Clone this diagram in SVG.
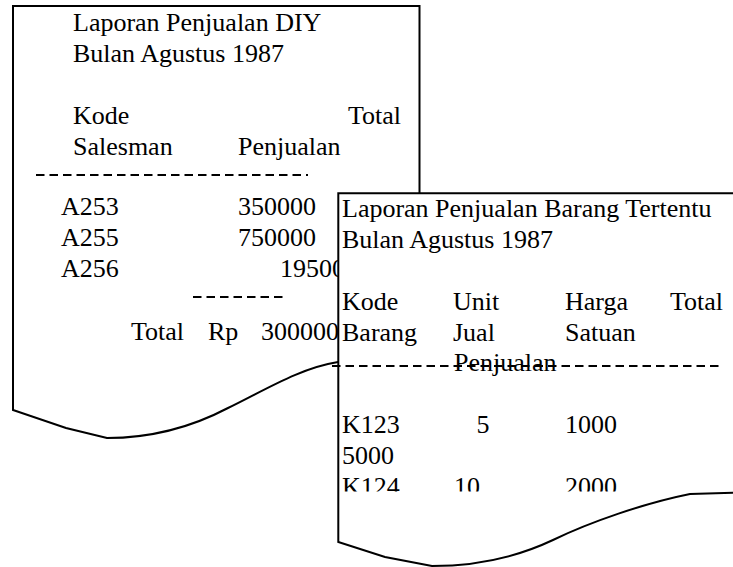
<svg xmlns="http://www.w3.org/2000/svg" width="733" height="567" viewBox="0 0 733 567">
<style>
  .doc { fill: #fff; stroke: #000; stroke-width: 2; stroke-linejoin: miter; }
  .t { font-family: "Liberation Serif", "Times New Roman", serif; font-size: 26px; fill: #000; }
  .dash { stroke: #000; stroke-width: 2; stroke-dasharray: 8.5 5; fill: none; }
</style>
<defs>
  <clipPath id="clip2">
    <rect x="330" y="190" width="410" height="301.5"/>
  </clipPath>
</defs>
<rect width="733" height="567" fill="#fff"/>
<g id="laporan-diy">
  <path class="doc" d="M13 6 H419.5 V362 L338 362 C300 368 265 390 228 408 C190 428 150 438 107 438 L66 428 L13 410 Z"/>
  <text class="t" x="73" y="31">Laporan Penjualan DIY</text>
  <text class="t" x="73" y="62">Bulan Agustus 1987</text>
  <text class="t" x="73" y="124">Kode</text>
  <text class="t" x="348" y="124">Total</text>
  <text class="t" x="73" y="155">Salesman</text>
  <text class="t" x="238" y="155">Penjualan</text>
  <line class="dash" x1="36" y1="175" x2="308" y2="175"/>
  <text class="t" x="61" y="215">A253</text>
  <text class="t" x="238" y="215">350000</text>
  <text class="t" x="61" y="246">A255</text>
  <text class="t" x="238" y="246">750000</text>
  <text class="t" x="61" y="277">A256</text>
  <text class="t" x="280" y="277">19500</text>
  <line class="dash" x1="193" y1="297" x2="286" y2="297"/>
  <text class="t" x="131" y="340">Total</text>
  <text class="t" x="208" y="340">Rp</text>
  <text class="t" x="261" y="340">300000</text>
</g>
<g id="laporan-barang">
  <path class="doc" d="M338.3 193.3 H745 V492.5 L690 494 C645 503 590 522 553 540 C515 558 475 566 432 566 L385 557 L338.3 542 Z"/>
  <text class="t" x="342" y="217">Laporan Penjualan Barang Tertentu</text>
  <text class="t" x="342" y="248">Bulan Agustus 1987</text>
  <text class="t" x="342" y="310">Kode</text>
  <text class="t" x="453" y="310">Unit</text>
  <text class="t" x="565" y="310">Harga</text>
  <text class="t" x="670" y="310">Total</text>
  <text class="t" x="342" y="341">Barang</text>
  <text class="t" x="453" y="341">Jual</text>
  <text class="t" x="565" y="341">Satuan</text>
  <text class="t" x="454" y="371">Penjualan</text>
  <line class="dash" x1="332" y1="366" x2="722" y2="366"/>
  <g clip-path="url(#clip2)">
    <text class="t" x="342" y="433">K123</text>
    <text class="t" x="476.5" y="433">5</text>
    <text class="t" x="565" y="433">1000</text>
    <text class="t" x="342" y="464">5000</text>
    <text class="t" x="342" y="495">K124</text>
    <text class="t" x="454" y="495">10</text>
    <text class="t" x="565" y="495">2000</text>
  </g>
</g>
</svg>
